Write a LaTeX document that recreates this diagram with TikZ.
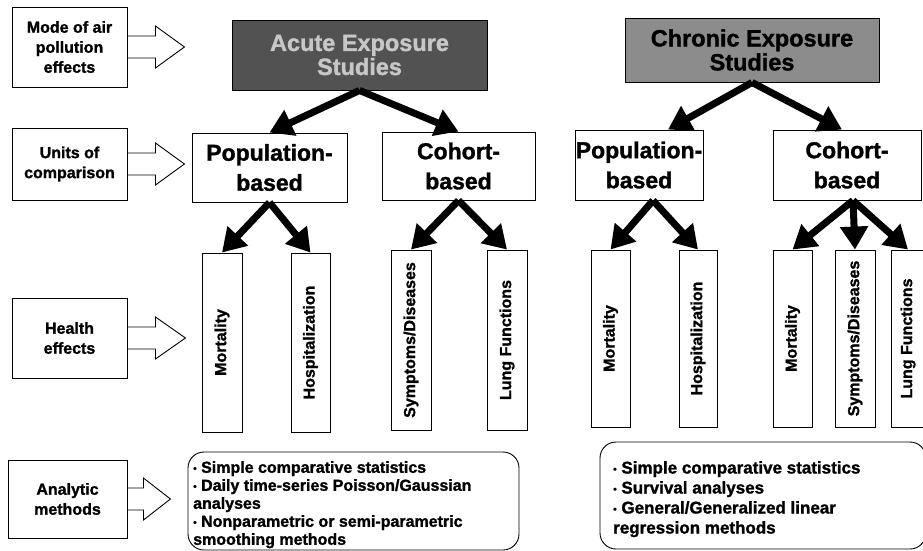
\documentclass[tikz,border=0pt]{standalone}
\usepackage{fontspec}
\setmainfont{Liberation Sans}[BoldFeatures={FakeBold=1.3}]
\usetikzlibrary{arrows.meta,calc}
\newcommand\blockarr[3]{%
  \draw[blk] ($(#1.east)+(0,-11)$) -- ($(#1.east)+(#2,-11)$) -- ($(#1.east)+(#2,-21)$)
    -- ($(#1.east)+(#3,0)$) -- ($(#1.east)+(#2,21)$) -- ($(#1.east)+(#2,11)$) -- ($(#1.east)+(0,11)$);}
\newcommand\bul{{\fontsize{10}{10}\selectfont\raisebox{1pt}{\textbullet}}\ }
\begin{document}
\begin{tikzpicture}[x=1pt,y=-1pt,
  box/.style={draw, line width=0.9pt, inner sep=0pt},
  lbl/.style={box, font=\bfseries\fontsize{16}{20}\selectfont, align=center},
  big/.style={box, font=\bfseries\fontsize{23}{30}\selectfont, align=center},
  gray1/.style={box, fill=black!68, text=black!22, font=\bfseries\fontsize{23.5}{24}\selectfont, align=center},
  gray2/.style={box, fill=black!45, text=black, font=\bfseries\fontsize{23.5}{24}\selectfont, align=center},
  hbox/.style={box},
  htxt/.style={rotate=90, inner sep=0pt, font=\bfseries\fontsize{16}{16}\selectfont},
  fat/.style={line width=7pt, -{Triangle[length=23pt,width=27pt]}},
  blk/.style={draw, line width=0.9pt, line join=miter},
  meth/.style={draw, line width=0.9pt, rounded corners=16pt},
  mtxt/.style={anchor=north west, align=left, inner sep=0pt}
]
\useasboundingbox (0,0) rectangle (923,551);

% left labels
\node[lbl, minimum width=115pt, minimum height=80pt] (L1) at (69.5,47) {Mode of air\\pollution\\effects};
\node[lbl, minimum width=115pt, minimum height=72pt] (L2) at (69.5,164) {Units of\\comparison};
\node[lbl, minimum width=115pt, minimum height=80pt] (L3) at (69.5,338) {Health\\effects};
\node[lbl, minimum width=119pt, minimum height=78pt] (L4) at (67.5,499) {Analytic\\methods};
\blockarr{L1}{28}{57}
\blockarr{L2}{28}{57}
\blockarr{L3}{28}{58}
\blockarr{L4}{16}{43}

% top gray boxes
\node[gray1, minimum width=255pt, minimum height=70pt] (A) at (359.5,55) {Acute Exposure\\Studies};
\node[gray2, minimum width=254pt, minimum height=64pt] (C) at (752,50) {Chronic Exposure\\Studies};

% units
\node[big, minimum width=155pt, minimum height=69pt] (AP) at (269.5,167.5) {Population-\\based};
\node[big, minimum width=153pt, minimum height=68pt] (AC) at (458.5,166) {Cohort-\\based};
\node[big, minimum width=128pt, minimum height=70pt] (CP) at (639,165) {Population-\\based};
\node[big, minimum width=148pt, minimum height=70pt] (CC) at (847,165) {Cohort-\\based};

% health boxes
\node[hbox, minimum width=40pt, minimum height=179pt] (AM) at (222,342.5) {};
\node[htxt] (AMt) at (AM.center) {Mortality};
\node[hbox, minimum width=39pt, minimum height=179pt] (AH) at (310.5,342.5) {};
\node[htxt] (AHt) at (AH.center) {Hospitalization};
\node[hbox, minimum width=40pt, minimum height=180pt] (AS) at (411,340) {};
\node[htxt] (ASt) at (AS.center) {Symptoms/Diseases};
\node[hbox, minimum width=40pt, minimum height=180pt] (AL) at (507,340) {};
\node[htxt] (ALt) at (AL.center) {Lung Functions};

\node[hbox, minimum width=39pt, minimum height=177pt] (CM) at (610.5,338.5) {};
\node[htxt] (CMt) at (CM.center) {Mortality};
\node[hbox, minimum width=38pt, minimum height=177pt] (CH) at (698,338.5) {};
\node[htxt] (CHt) at (CH.center) {Hospitalization};
\node[hbox, minimum width=39pt, minimum height=177pt] (CM2) at (792.5,338.5) {};
\node[htxt] (CM2t) at (CM2.center) {Mortality};
\node[hbox, minimum width=40pt, minimum height=177pt] (CS) at (855,338.5) {};
\node[htxt] (CSt) at (CS.center) {Symptoms/Diseases};
\node[hbox, minimum width=40pt, minimum height=177pt] (CL) at (911,338.5) {};
\node[htxt] (CLt) at ($(CL.center)+(-3,0)$) {Lung Functions};

% thick arrows
\draw[fat] (A.south) -- (AP.north);
\draw[fat] (A.south) -- (AC.north);
\draw[fat] (C.south) -- ($(CP.north)+(29,0)$);
\draw[fat] (C.south) -- ($(CC.north)+(-5,0)$);
\draw[fat] (AP.south) -- (AM.north);
\draw[fat] (AP.south) -- (AH.north);
\draw[fat] (AC.south) -- (AS.north);
\draw[fat] (AC.south) -- (AL.north);
\coordinate (cpa) at ($(CP.south)+(14,0)$);
\coordinate (cca) at ($(CC.south)+(6,0)$);
\draw[fat] (cpa) -- (CM.north);
\draw[fat] (cpa) -- (CH.north);
\draw[fat] (cca) -- (CM2.north);
\draw[fat] (cca) -- (CS.north);
\draw[fat] (cca) -- ($(CL.north)+(-3,0)$);

% methods
\node[meth, minimum width=331pt, minimum height=98pt] (AMe) at (353.5,501) {};
\node[mtxt, font=\bfseries\fontsize{16}{18}\selectfont] (AMet) at (193,461)
  {\bul Simple comparative statistics\\\bul Daily time-series Poisson/Gaussian\\analyses\\\bul Nonparametric or semi-parametric\\smoothing methods};
\node[meth, minimum width=326pt, minimum height=107pt] (CMe) at (763,495.5) {};
\node[mtxt, font=\bfseries\fontsize{17}{20}\selectfont] (CMet) at (613,461)
  {\bul Simple comparative statistics\\\bul Survival analyses\\\bul General/Generalized linear\\regression methods};
\end{tikzpicture}
\end{document}
